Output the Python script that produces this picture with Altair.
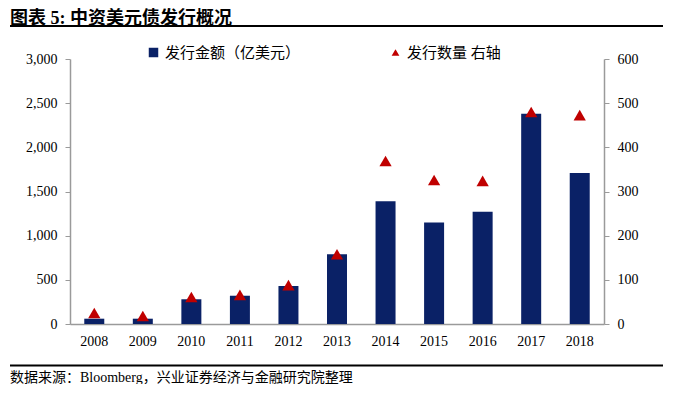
import altair as alt
import pandas as pd

years = ["2008", "2009", "2010", "2011", "2012", "2013", "2014", "2015", "2016", "2017", "2018"]
amount = [60, 60, 280, 320, 430, 790, 1390, 1150, 1270, 2380, 1710]
count = [25, 18, 61, 66, 88, 158, 369, 326, 324, 480, 473]

amount_label = "发行金额（亿美元）"
count_label = "发行数量 右轴"

df = pd.DataFrame({"year": years, "amount": amount, "count": count,
                   "s1": amount_label, "s2": count_label})

FONT = "Liberation Serif, Noto Sans CJK SC"
NAVY = "#0a2166"
RED = "#c00000"
GRAY = "#9a9a9a"

x = alt.X("year:N", title=None, sort=years,
          scale=alt.Scale(paddingInner=0.58, paddingOuter=0.29),
          axis=alt.Axis(labelAngle=0, labelFontSize=14, labelFont=FONT, labelColor="#000",
                        domainColor=GRAY, domainWidth=1.5, ticks=False, labelPadding=10))

bars = alt.Chart(df).mark_bar(size=20).encode(
    x=x,
    y=alt.Y("amount:Q", title=None,
            scale=alt.Scale(domain=[0, 3000], nice=False),
            axis=alt.Axis(values=[0, 500, 1000, 1500, 2000, 2500, 3000], format=",.0f",
                          orient="left", grid=False, labelFontSize=14, labelFont=FONT,
                          labelColor="#000", domainColor=GRAY, domainWidth=1.5,
                          tickColor=GRAY, tickSize=5, labelPadding=8)),
    color=alt.Color("s1:N", scale=alt.Scale(domain=[amount_label], range=[NAVY]),
                    legend=alt.Legend(title=None, orient="none", legendX=76, legendY=-14,
                                      symbolType="square", symbolSize=90, labelFontSize=15,
                                      labelFont=FONT, labelColor="#000", padding=0)),
)

points = alt.Chart(df).mark_point(filled=True, shape="triangle-up", size=150, opacity=1).encode(
    x=x,
    y=alt.Y("count:Q", title=None,
            scale=alt.Scale(domain=[0, 600], nice=False),
            axis=alt.Axis(values=[0, 100, 200, 300, 400, 500, 600], orient="right",
                          grid=False, labelFontSize=14, labelFont=FONT, labelColor="#000",
                          domainColor=GRAY, domainWidth=1.5, tickColor=GRAY, tickSize=5,
                          labelPadding=8)),
    color=alt.Color("s2:N", scale=alt.Scale(domain=[count_label], range=[RED]),
                    legend=alt.Legend(title=None, orient="none", legendX=318, legendY=-14,
                                      symbolType="triangle-up", symbolSize=60, labelFontSize=15,
                                      labelFont=FONT, labelColor="#000", padding=0)),
)

title_df = pd.DataFrame({"t": ["图表 5:   中资美元债发行概况"]})
title = alt.Chart(title_df).mark_text(align="left", baseline="middle", fontSize=18,
                                      fontWeight="bold", font=FONT, color="#000").encode(
    text="t:N", x=alt.value(-60), y=alt.value(-40))

src_df = pd.DataFrame({"t": ["数据来源：Bloomberg，兴业证券经济与金融研究院整理"]})
source = alt.Chart(src_df).mark_text(align="left", baseline="middle", fontSize=14,
                                     font=FONT, color="#000").encode(
    text="t:N", x=alt.value(-60), y=alt.value(319))

rule_top = alt.Chart(title_df).mark_rule(color="#000", strokeWidth=2).encode(
    x=alt.value(-60), x2=alt.value(593), y=alt.value(-33))
rule_bot = alt.Chart(src_df).mark_rule(color="#000", strokeWidth=2).encode(
    x=alt.value(-60), x2=alt.value(593), y=alt.value(306.5))

chart = alt.layer(bars, points, title, source, rule_top, rule_bot).resolve_scale(
    y="independent", color="independent"
).properties(
    width=534, height=265,
    autosize=alt.AutoSizeParams(type="none"),
    padding={"left": 62, "top": 51, "right": 76, "bottom": 60},
).configure_view(stroke=None)

chart.save("out.html", embed_options={"renderer": "svg", "actions": False})
